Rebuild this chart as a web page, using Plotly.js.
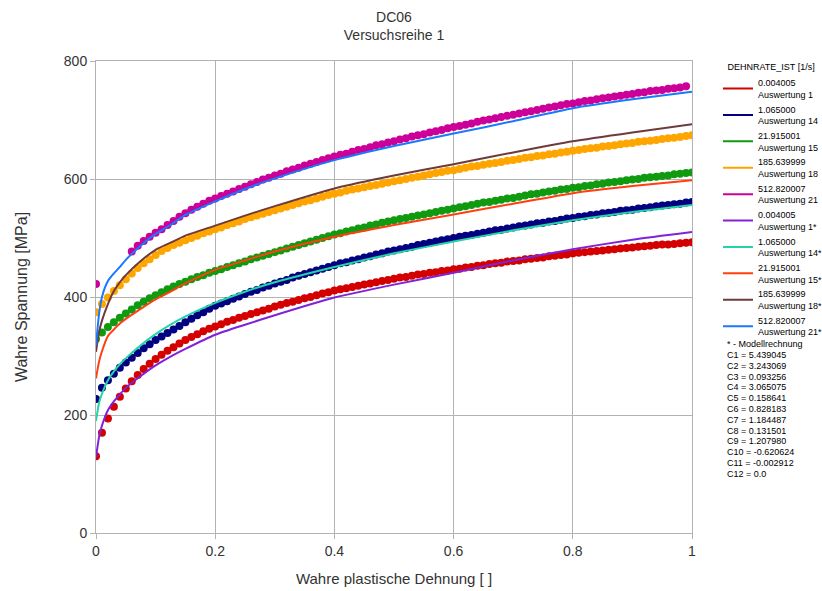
<!DOCTYPE html>
<html>
<head>
<meta charset="utf-8">
<script src="https://cdn.plot.ly/plotly-3.0.1.min.js"></script>
<style>html,body{margin:0;padding:0;background:#fff;}#chart{width:822px;height:591px;}</style>
</head>
<body>
<div id="chart"></div>
<script>
// Measured strain grid (true plastic strain)
const strainData = [0,0.01,0.02,0.03,0.04,0.05,0.06,0.07,0.08,0.09,0.10,0.11,0.12,0.13,0.14,0.15,0.16,0.17,0.18,0.19,0.20,
0.21,0.22,0.23,0.24,0.25,0.26,0.27,0.28,0.29,0.30,0.31,0.32,0.33,0.34,0.35,0.36,0.37,0.38,0.39,0.40,
0.41,0.42,0.43,0.44,0.45,0.46,0.47,0.48,0.49,0.50,0.51,0.52,0.53,0.54,0.55,0.56,0.57,0.58,0.59,0.60,
0.61,0.62,0.63,0.64,0.65,0.66,0.67,0.68,0.69,0.70,0.71,0.72,0.73,0.74,0.75,0.76,0.77,0.78,0.79,0.80,
0.81,0.82,0.83,0.84,0.85,0.86,0.87,0.88,0.89,0.90,0.91,0.92,0.93,0.94,0.95,0.96,0.97,0.98,0.99,1.00];

// Measured true stress [MPa]
const ausw1 = [130,170,194,214,231,245,257,268,278,287,295,302,309,315,321,327,332,337,342,346,350,
354,358,361,365,368,371,374,377,380,384,387,390,392,395,398,400,403,406,408,411,
413,415,417,419,421,423,425,427,429,431,433,434,436,438,439,441,442,444,445,447,
448,450,451,453,454,456,457,458,460,461,462,464,465,466,467,469,470,471,472,474,
475,476,477,478,479,480,481,482,483,484,485,486,487,488,489,489,490,491,492,493];
const ausw14 = [227,246,259,270,280,289,297,305,313,320,327,333,339,345,351,357,363,369,374,380,385,
389,393,397,401,405,409,412,416,419,423,426,429,433,436,439,442,445,448,451,454,
457,459,462,464,467,469,472,474,477,479,481,483,485,488,490,492,494,496,498,500,
502,504,505,507,509,511,513,514,516,518,520,521,523,525,526,528,529,531,533,534,
536,537,539,540,542,543,544,546,547,548,550,551,552,554,555,556,557,558,560,561];
const ausw15 = [329,340,349,357,365,372,379,386,392,398,403,408,413,418,422,426,430,434,437,441,444,
447,451,454,457,460,464,467,470,473,476,479,482,485,488,491,494,497,500,503,506,
508,511,513,516,518,521,523,526,528,530,532,534,536,538,540,542,544,546,548,550,
552,554,556,558,560,561,563,565,567,568,570,572,574,575,577,579,580,582,583,585,
586,588,589,591,592,594,595,596,598,599,600,602,603,604,605,606,608,609,610,611];
const ausw18 = [374,388,399,410,420,430,440,449,457,464,471,478,483,488,492,496,500,504,508,511,515,
518,522,525,528,532,535,538,541,544,547,550,553,556,559,562,564,567,570,573,575,
577,580,582,584,586,588,590,592,594,596,598,600,602,604,606,608,610,612,614,615,
617,619,621,622,624,626,627,629,631,632,634,636,637,639,640,642,643,645,646,648,
649,651,652,653,655,656,657,659,660,661,663,664,665,666,668,669,670,671,673,674];
const ausw21 = [422,null,null,null,null,null,477,487,495,502,509,515,522,529,536,542,548,553,558,563,567,
571,575,579,583,587,591,595,599,602,606,609,613,616,619,623,626,629,632,635,638,
641,643,646,649,651,654,657,659,662,664,667,669,672,674,676,679,681,683,686,688,
690,692,694,697,699,701,703,705,707,709,711,713,715,717,719,721,723,725,727,728,
730,732,733,735,737,738,740,741,743,744,746,747,749,750,751,753,754,755,757,null];

// Model calculation (Modellrechnung)
const strainModel = [0,0.005,0.01,0.02,0.03,0.04,0.05,0.075,0.1,0.125,0.15,0.2,0.25,0.3,0.4,0.5,0.6,0.7,0.8,0.9,1.0];
const model1  = [128,162,182,208,223,235,246,266,284,299,312,336,353,369,399,421,441,462,481,497,510];
const model14 = [190,220,236,259,274,286,296,318,337,353,367,390,409,425,451,474,494,513,530,544,556];
const model15 = [262,290,308,334,345,355,363,380,396,409,423,446,462,477,502,522,540,558,576,588,598];
const model18 = [307,340,360,388,410,425,437,461,480,492,504,521,538,554,584,606,625,645,664,679,693];
const model21 = [318,370,400,427,440,451,463,487,507,522,539,562,583,601,632,656,677,698,720,735,748];

const rates = ['0.004005','1.065000','21.915001','185.639999','512.820007'];
const runs = ['Auswertung 1','Auswertung 14','Auswertung 15','Auswertung 18','Auswertung 21'];
const dataColors = ['#d40000','#000080','#109a10','#ffa500','#cc0099'];
const modelColors = ['#7f22d8','#22d4a6','#ff3f10','#6e3a3a','#1a78ff'];
const paramLines = ['* - Modellrechnung','C1 = 5.439045','C2 = 3.243069','C3 = 0.093256','C4 = 3.065075',
'C5 = 0.158641','C6 = 0.828183','C7 = 1.184487','C8 = 0.131501','C9 = 1.207980','C10 = -0.620624',
'C11 = -0.002912','C12 = 0.0'];

const dataSeries = [ausw1, ausw14, ausw15, ausw18, ausw21];
const modelSeries = [model1, model14, model15, model18, model21];

const traces = [];
dataSeries.forEach((ys, i) => {
  traces.push({x: strainData, y: ys, type: 'scatter', mode: 'markers',
    marker: {color: dataColors[i], size: 8, line: {width: 0}}, showlegend: false, hoverinfo: 'x+y'});
});
modelSeries.forEach((ys, i) => {
  traces.push({x: strainModel, y: ys, type: 'scatter', mode: 'lines',
    line: {color: modelColors[i], width: 2, shape: 'spline', smoothing: 0.6}, showlegend: false});
});
// legend entries (line samples)
dataColors.forEach((c, i) => {
  traces.push({x: [null], y: [null], type: 'scatter', mode: 'lines', line: {color: c, width: 2},
    name: rates[i] + '<br>' + runs[i]});
});
modelColors.forEach((c, i) => {
  traces.push({x: [null], y: [null], type: 'scatter', mode: 'lines', line: {color: c, width: 2},
    name: rates[i] + '<br>' + runs[i] + '*'});
});

const fontFam = 'Liberation Sans, Arial, sans-serif';
const annotations = paramLines.map((t, i) => ({
  text: t, xref: 'paper', yref: 'paper', x: 1.0554, y: 0.400 - i * 0.0229,
  xanchor: 'left', yanchor: 'middle', showarrow: false,
  font: {family: fontFam, size: 9, color: '#000'}
}));

const layout = {
  width: 822, height: 591,
  margin: {l: 96, r: 130, t: 61, b: 58, autoexpand: false},
  paper_bgcolor: '#fff', plot_bgcolor: '#fff',
  font: {family: fontFam, color: '#333'},
  title: {text: 'DC06<br>Versuchsreihe 1', x: 0.5, xref: 'paper', xanchor: 'center',
    yref: 'container', y: 0.963, yanchor: 'middle',
    font: {family: fontFam, size: 14, color: '#333'}},
  xaxis: {range: [0, 1], tickvals: [0, 0.2, 0.4, 0.6, 0.8, 1], ticktext: ['0','0.2','0.4','0.6','0.8','1'],
    showgrid: true, gridcolor: '#b3b3b3', gridwidth: 1, zeroline: false,
    showline: true, linecolor: '#b3b3b3', linewidth: 1, mirror: true,
    ticks: 'outside', ticklen: 5, tickcolor: '#b3b3b3',
    tickfont: {family: fontFam, size: 14, color: '#333'},
    title: {text: 'Wahre plastische Dehnung [ ]', standoff: 15, font: {family: fontFam, size: 15, color: '#333'}}},
  yaxis: {range: [0, 800], tickvals: [0, 200, 400, 600, 800],
    showgrid: true, gridcolor: '#b3b3b3', gridwidth: 1, zeroline: false,
    showline: true, linecolor: '#b3b3b3', linewidth: 1, mirror: true,
    ticks: 'outside', ticklen: 5, tickcolor: '#b3b3b3',
    tickfont: {family: fontFam, size: 14, color: '#333'},
    title: {text: 'Wahre Spannung [MPa]', standoff: 32, font: {family: fontFam, size: 16, color: '#333'}}},
  legend: {x: 1.0436, xanchor: 'left', y: 1.005, yanchor: 'top',
    font: {family: fontFam, size: 9, color: '#000'},
    title: {text: '   DEHNRATE_IST [1/s]', font: {family: fontFam, size: 9, color: '#000'}},
    bgcolor: 'rgba(0,0,0,0)', itemwidth: 30, tracegroupgap: 0},
  annotations: annotations,
  showlegend: true
};

Plotly.newPlot('chart', traces, layout, {displayModeBar: false, staticPlot: true});
</script>
</body>
</html>
